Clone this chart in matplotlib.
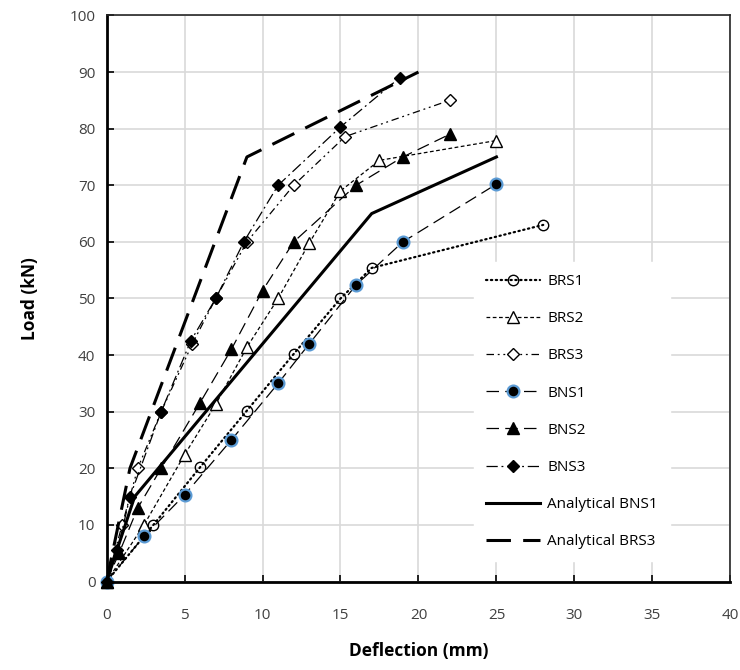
import matplotlib.pyplot as plt

plt.rcParams['font.family'] = ['Open Sans', 'DejaVu Sans']

# Specimen load-deflection curves (mm, kN)
brs1_x = [0, 3, 6, 9, 12, 15, 17, 28]
brs1_y = [0, 10, 20.2, 30.2, 40.2, 50, 55.4, 63]
brs2_x = [0, 2.4, 5, 7, 9, 11, 13, 15, 17.5, 25]
brs2_y = [0, 10, 22.4, 31.3, 41.4, 50, 59.8, 69, 74.4, 77.9]
brs3_x = [0, 1, 2, 3.5, 5.5, 7, 9, 12, 15.3, 22]
brs3_y = [0, 10, 20, 30, 42, 50, 60, 70, 78.6, 85]
bns1_x = [0, 2.4, 5, 8, 11, 13, 16, 19, 25]
bns1_y = [0, 8, 15.3, 25, 35, 42, 52.4, 60, 70.2]
bns2_x = [0, 0.8, 2, 3.5, 6, 8, 10, 12, 16, 19, 22]
bns2_y = [0, 5, 13, 20, 31.6, 41, 51.4, 60, 70, 75, 79]
bns3_x = [0, 0.7, 1.5, 3.5, 5.4, 7, 8.8, 11, 15, 18.8]
bns3_y = [0, 5.5, 15, 30, 42.5, 50, 60, 70, 80.3, 89]

# Analytical predictions
an_bns1_x = [0, 1.8, 17, 25]
an_bns1_y = [0, 15, 65, 75]
an_brs3_x = [0, 1.5, 9, 20]
an_brs3_y = [0, 20, 75, 90]

fig = plt.figure(figsize=(7.4, 6.7), dpi=100)
ax = fig.add_axes([0.144, 0.132, 0.843, 0.845])

thin = 0.9
ms = 7.5
ax.plot(brs1_x, brs1_y, color='black', lw=1.6, ls=(0, (0.6, 1.6)), dash_capstyle='round',
        marker='o', ms=ms, mfc='none', mec='black', mew=1.0, label='BRS1', clip_on=False)
ax.plot(brs2_x, brs2_y, color='black', lw=thin, ls=(0, (3, 2)),
        marker='^', ms=ms + 1, mfc='white', mec='black', mew=1.0, label='BRS2', clip_on=False)
ax.plot(brs3_x, brs3_y, color='black', lw=thin, ls=(0, (6, 3, 1.5, 3, 1.5, 3)),
        marker='D', ms=ms - 1.5, mfc='white', mec='black', mew=1.0, label='BRS3', clip_on=False)
ax.plot(bns1_x, bns1_y, color='black', lw=thin, ls=(0, (10, 5)),
        marker='o', ms=ms + 1, mfc='black', mec='#5B9BD5', mew=1.6, label='BNS1', clip_on=False)
ax.plot(bns2_x, bns2_y, color='black', lw=thin, ls=(0, (10, 5)),
        marker='^', ms=ms + 1.5, mfc='black', mec='black', label='BNS2', clip_on=False)
ax.plot(bns3_x, bns3_y, color='black', lw=thin, ls=(0, (9, 3, 1.5, 3)),
        marker='D', ms=ms - 1, mfc='black', mec='black', label='BNS3', clip_on=False)
ax.plot(an_bns1_x, an_bns1_y, color='black', lw=2.2, ls='-', label='Analytical BNS1')
ax.plot(an_brs3_x, an_brs3_y, color='black', lw=2.2, ls=(0, (8, 4)),
        label='Analytical BRS3')

ax.set_xlim(0, 40)
ax.set_ylim(0, 100)
ax.set_xticks(range(0, 41, 5))
ax.set_yticks(range(0, 101, 10))
ax.grid(True, color='#d9d9d9', lw=1.2)
ax.set_axisbelow(True)
ax.tick_params(direction='in', length=5, width=1.2, labelsize=11, labelcolor='#404040')
ax.tick_params(axis='x', pad=19)
ax.tick_params(axis='y', pad=8)

for side in ['top', 'right']:
    ax.spines[side].set_linewidth(1.2)
    ax.spines[side].set_color('#262626')
for side in ['left', 'bottom']:
    ax.spines[side].set_linewidth(2.0)

ax.set_xlabel('Deflection (mm)', fontsize=12.5, fontweight='bold', labelpad=14)
ax.set_ylabel('Load (kN)', fontsize=12.5, fontweight='bold', labelpad=22)

leg = ax.legend(loc='upper left', bbox_to_anchor=(0.577, 0.578), frameon=True,
                fontsize=11, labelspacing=1.45, handlelength=3.5, handletextpad=0.5,
                borderpad=0.8, fancybox=False)
leg.get_frame().set_edgecolor('white')
leg.get_frame().set_facecolor('white')
leg.get_frame().set_alpha(1.0)

fig.savefig('out.png', dpi=100)
